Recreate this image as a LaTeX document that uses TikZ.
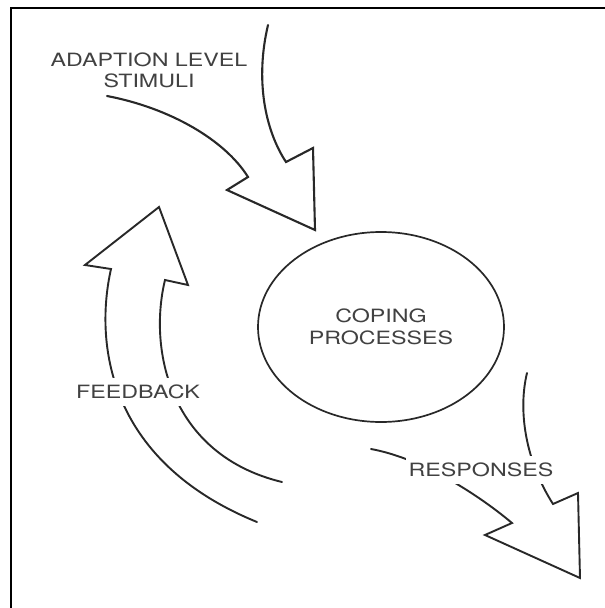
\documentclass[tikz,border=0pt]{standalone}
\usepackage{fontspec}
\usetikzlibrary{shapes.geometric}
\newfontfamily\labfont[FakeStretch=1.27]{TeX Gyre Heros}
\definecolor{inkline}{RGB}{40,40,40}
\definecolor{inktext}{RGB}{65,65,65}
\tikzset{
  arrowshape/.style={draw=inkline, line width=1.9pt, line join=miter, line cap=round},
  lbl/.style={font=\labfont\fontsize{18.3}{21}\selectfont, text=inktext, align=center, inner sep=0pt},
  cutlbl/.style={lbl, fill=white, inner xsep=3pt, inner ysep=7pt},
}
\begin{document}
\begin{tikzpicture}[x=1pt,y=-1pt]
\useasboundingbox (0,0) rectangle (605,608);
\fill[white] (0,0) rectangle (605,608);
% frame
\draw[line width=2pt, black] (11,608) -- (11,7.5) -- (605,7.5);

% stimuli arrow
\draw[arrowshape, line width=2.1pt] (268,25) .. controls (255,80) and (265,130) .. (286,162)
  -- (313,148) -- (315,230) -- (227,190) -- (248,177)
  .. controls (225,140) and (170,108) .. (107,96);

% feedback arrow
\draw[arrowshape] (257,522) .. controls (105,460) and (95,340) .. (111,269)
  -- (85,265) -- (159,207) -- (188,285) -- (165,280)
  .. controls (148,350) and (170,455) .. (282,482);

% responses arrow
\draw[arrowshape] (527,373) .. controls (518,410) and (525,460) .. (553,504)
  -- (578,493) -- (580,578) -- (485,535) -- (512,523)
  .. controls (475,492) and (420,458) .. (371,449);

% coping processes
\node[ellipse, draw=inkline, line width=1.7pt, minimum width=246pt, minimum height=190pt, lbl, inner sep=0pt] (coping) at (381,327) {COPING\\[1pt]PROCESSES};

% labels
\node[lbl] (stimuli) at (149,70) {ADAPTION LEVEL\\STIMULI};
\node[cutlbl] (feedback) at (138,392) {FEEDBACK};
\node[cutlbl] (responses) at (481,470) {RESPONSES};
\end{tikzpicture}
\end{document}
